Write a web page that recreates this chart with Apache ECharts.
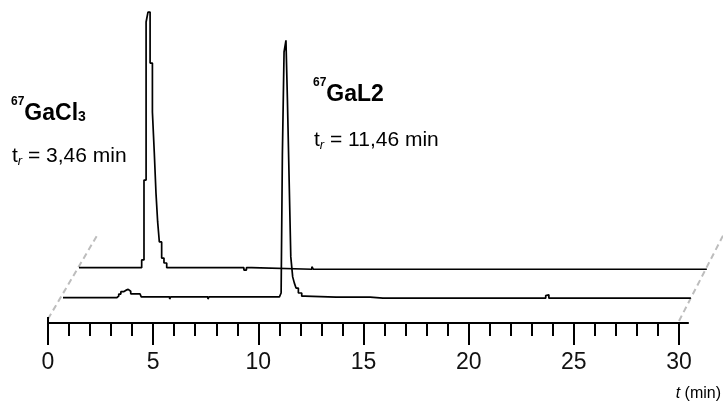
<!DOCTYPE html>
<html><head><meta charset="utf-8">
<script src="https://cdn.jsdelivr.net/npm/echarts@6/dist/echarts.min.js"></script>
<style>html,body{margin:0;padding:0;background:#fff}#c{width:723px;height:403px}</style>
</head><body><div id="c"></div>
<script>
// ---------------- data ----------------
const xMin = 0, xMax = 30;
const xTicks = [0, 5, 10, 15, 20, 25, 30];
const axisTitle = 't (min)';

// lower trace: 67GaL2 (time in min, signal in arbitrary units, step-wise recorded)
const gaL2Time   = [0, 2.55, 2.65, 2.75, 2.88, 3.00, 3.10, 3.22, 3.66, 3.72, 5.07, 5.12, 6.89, 6.94,
                    10.29, 10.37, 10.43, 10.51, 10.60, 10.67, 10.76, 10.83, 10.92, 11.00, 11.08, 11.19, 11.35, 11.50,
                    12.98, 13.03, 13.95, 14.00, 14.60, 15.21, 15.26, 16.72, 16.77, 18.07, 18.12, 22.95, 23.03, 23.10, 29.85];
const gaL2Signal = [0, 0.6, 1.4, 2.3, 2.9, 3.2, 2.5, 1.5, 1.3, 0.3, -0.5, 0.3, -0.5, 0.3,
                    0.3, 1.8, 55, 94.5, 99, 76, 42, 15.7, 8, 5.6, 3.7, 1.8, 0.6, 0.2,
                    -0.5, 0.2, -0.5, 0.2, -0.2, 0.5, -0.2, 0.5, -0.2, 0.5, -0.2, 0.8, 1.1, -0.2, -0.2];

// upper trace: 67GaCl3
const gaCl3Time   = [0, 2.98, 3.09, 3.19, 3.28, 3.38, 3.49, 3.58, 3.66, 3.74, 3.82, 3.93, 4.04, 4.17,
                     6.84, 6.89, 7.05, 7.10, 7.84, 7.96, 8.21, 11.07, 11.14, 29.85];
const gaCl3Signal = [0, 3.0, 33.7, 94.5, 98.3, 78.7, 59.9, 44.1, 28.7, 17.6, 9.9, 3.7, 1.8, 0,
                     -0.7, 0, -0.7, 0, -0.9, 0, -0.6, 0.4, -0.6, -0.6];

const isotopes = ['67', '67'];
const species = ['GaCl', 'GaL2'];
const speciesSub = ['3', ''];
const retention = ['3,46', '11,46'];

// ---------------- layout ----------------
const FONT = '"Liberation Sans", Arial, sans-serif';
const AX_LEFT = 48, AX_Y = 323, AX_W = 631;
const AX_EXT = 0.43;            // axis line overshoot beyond xMax (min)
const Y_MIN = -3, Y_MAX = 102, PX_PER_UNIT = 2.6;
const LAYERS = [{dx: 15, dy: -25.3}, {dx: 31, dy: -55.3}];  // lower, upper trace
const DASH_EXT = 1.59;

const grids = [], xAxes = [], yAxes = [], series = [];
const hiddenY = gi => ({gridIndex: gi, type: 'value', min: 0, max: 1, show: false, splitLine: {show: false}});

// grid 0 : ticks + labels
grids.push({left: AX_LEFT, width: AX_W, top: AX_Y - 10, height: 10, outerBoundsMode: 'none', containLabel: false});
xAxes.push({
  gridIndex: 0, type: 'value', position: 'bottom', min: xMin, max: xMax,
  interval: xTicks[1] - xTicks[0],
  axisLine: {show: false},
  axisTick: {show: true, length: 22, lineStyle: {color: '#000', width: 2}},
  minorTick: {show: true, splitNumber: 5, length: 13, lineStyle: {color: '#000', width: 2}},
  axisLabel: {margin: 28, fontSize: 23, color: '#111', fontFamily: FONT, formatter: v => xTicks.includes(v) ? String(v) : ''},
  splitLine: {show: false}
});
yAxes.push(hiddenY(0));

// grid 1 : axis line (slightly longer) + small upward tick at origin
grids.push({left: AX_LEFT, width: AX_W * (xMax + AX_EXT - xMin) / (xMax - xMin), top: AX_Y - 10, height: 10, outerBoundsMode: 'none', containLabel: false});
xAxes.push({
  gridIndex: 1, type: 'value', position: 'bottom', min: xMin, max: xMax + AX_EXT,
  axisLine: {show: true, lineStyle: {color: '#000', width: 2}},
  axisTick: {show: true, inside: true, length: 6, customValues: [xMin], lineStyle: {color: '#000', width: 2}},
  axisLabel: {show: false},
  splitLine: {show: false}
});
yAxes.push(hiddenY(1));

// trace grids
const traces = [[gaL2Time, gaL2Signal], [gaCl3Time, gaCl3Signal]];
LAYERS.forEach((L, i) => {
  const base = AX_Y + L.dy;
  const bottomPx = base + (-Y_MIN) * PX_PER_UNIT;
  const h = (Y_MAX - Y_MIN) * PX_PER_UNIT;
  grids.push({left: AX_LEFT + L.dx, width: AX_W, top: bottomPx - h, height: h, outerBoundsMode: 'none', containLabel: false});
  const gi = grids.length - 1;
  xAxes.push({gridIndex: gi, type: 'value', min: xMin, max: xMax, show: false, splitLine: {show: false}});
  yAxes.push({gridIndex: gi, type: 'value', min: Y_MIN, max: Y_MAX, show: false, splitLine: {show: false}});
  const [t, s] = traces[i];
  series.push({
    type: 'line', xAxisIndex: gi, yAxisIndex: gi,
    data: t.map((v, k) => [v, s[k]]),
    step: 'end', showSymbol: false, symbol: 'none', clip: false, silent: true,
    lineStyle: {color: '#000', width: 1.7}, z: 3
  });
});

const richMain = {
  sup: {fontSize: 12, fontWeight: 'bold', fontFamily: FONT, color: '#111', verticalAlign: 'top', lineHeight: 12},
  main: {fontSize: 23, fontWeight: 'bold', fontFamily: FONT, color: '#111', lineHeight: 36},
  sub: {fontSize: 14, fontWeight: 'bold', fontFamily: FONT, color: '#111', padding: [6, 0, 0, 0]}
};
const richRt = {
  t: {fontSize: 21, fontFamily: FONT, color: '#111', lineHeight: 24},
  sr: {fontSize: 13, fontStyle: 'italic', fontFamily: FONT, color: '#111', verticalAlign: 'bottom', lineHeight: 17},
  v: {fontSize: 21, fontFamily: FONT, color: '#111', lineHeight: 24}
};
const annPos = [{x: 11, y1: 96, y2: 144}, {x: 313, y1: 77, y2: 128}];
const graphics = [];
species.forEach((sp, i) => {
  graphics.push({type: 'text', id: 'n' + i, x: annPos[i].x, y: annPos[i].y1, z: 10,
    style: {text: '{sup|' + isotopes[i] + '}{main|' + sp + '}' + (speciesSub[i] ? '{sub|' + speciesSub[i] + '}' : ''),
            rich: richMain, align: 'left', verticalAlign: 'top'}});
  graphics.push({type: 'text', id: 'r' + i, x: annPos[i].x + 1, y: annPos[i].y2, z: 10,
    style: {text: '{t|t}{sr|r}{v| = ' + retention[i] + ' min}', rich: richRt, align: 'left', verticalAlign: 'top'}});
});
graphics.push({type: 'text', id: 'xt', x: 721, y: 386, z: 10,
  style: {text: '{i|t}{n|' + axisTitle.slice(1) + '}', align: 'right', verticalAlign: 'top',
          rich: {i: {fontSize: 16, fontStyle: 'italic', fontFamily: FONT, color: '#111'},
                 n: {fontSize: 16, fontFamily: FONT, color: '#111'}}}});

const chart = echarts.init(document.getElementById('c'), null, {renderer: 'canvas', width: 723, height: 403});
chart.setOption({
  animation: false,
  backgroundColor: '#fff',
  textStyle: {fontFamily: FONT},
  grid: grids, xAxis: xAxes, yAxis: yAxes, series: series,
  graphic: graphics
});

// dashed depth guides, computed from the axes
const upperIdx = 3;
const o0 = chart.convertToPixel({xAxisIndex: 0, yAxisIndex: 0}, [xMin, 0]);
const o1 = chart.convertToPixel({xAxisIndex: upperIdx, yAxisIndex: upperIdx}, [gaCl3Time[0], 0]);
const e0 = chart.convertToPixel({xAxisIndex: 0, yAxisIndex: 0}, [xMax, 0]);
const e1 = chart.convertToPixel({xAxisIndex: upperIdx, yAxisIndex: upperIdx}, [gaCl3Time[gaCl3Time.length - 1], 0]);
const ext = (a, b) => [a[0] + (b[0] - a[0]) * DASH_EXT, a[1] + (b[1] - a[1]) * DASH_EXT];
const dashStyle = {stroke: '#bdbdbd', lineWidth: 2, lineDash: [6, 4], fill: null};
const le = ext(o0, o1), re = ext(e0, e1);
chart.setOption({graphic: [
  {type: 'line', id: 'dl', z: 0, shape: {x1: o0[0], y1: o0[1] - 4, x2: le[0], y2: le[1]}, style: dashStyle, silent: true},
  {type: 'line', id: 'dr', z: 0, shape: {x1: e0[0], y1: e0[1] - 2, x2: re[0], y2: re[1]}, style: dashStyle, silent: true}
]});
</script>
</body></html>
